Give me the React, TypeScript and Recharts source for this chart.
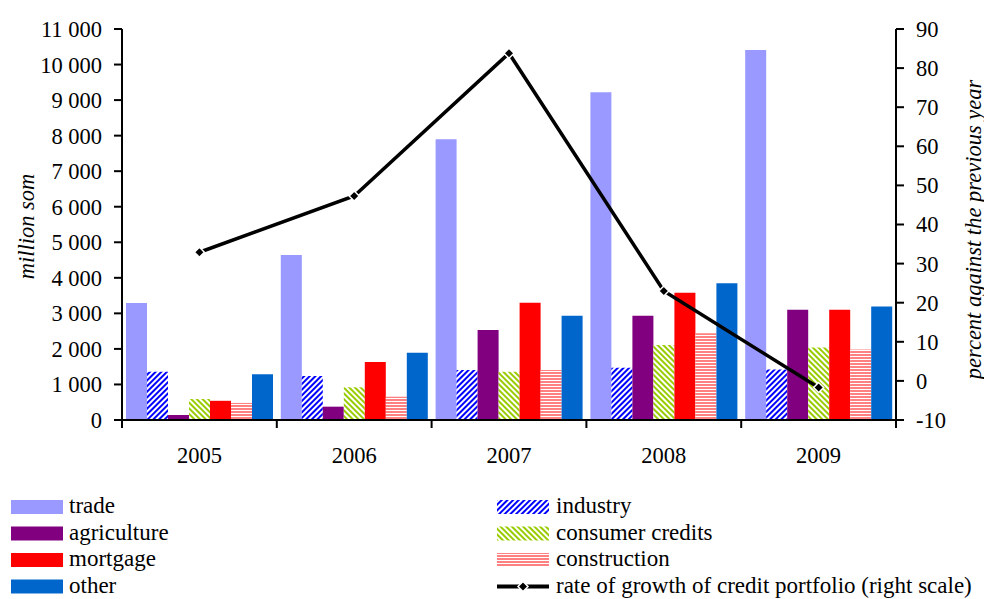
import React from "react";
import {
  ComposedChart,
  Bar,
  Line,
  XAxis,
  YAxis,
  Label
} from "recharts";

// Credit portfolio by sector, million som, plus annual growth rate (%)
const years = ["2005", "2006", "2007", "2008", "2009"];
const trade = [3290, 4640, 7900, 9220, 10410];
const industry = [1360, 1240, 1410, 1470, 1420];
const agriculture = [140, 375, 2530, 2930, 3100];
const consumerCredits = [590, 920, 1360, 2110, 2040];
const mortgage = [540, 1630, 3300, 3580, 3100];
const construction = [480, 655, 1410, 2440, 1980];
const other = [1290, 1890, 2930, 3850, 3190];
const growthRate = [32.9, 47.3, 83.8, 23.0, -1.7];

const leftTicks = [0, 1000, 2000, 3000, 4000, 5000, 6000, 7000, 8000, 9000, 10000, 11000];
const rightTicks = [-10, 0, 10, 20, 30, 40, 50, 60, 70, 80, 90];

const data = years.map((year, i) => ({
  year,
  trade: trade[i],
  industry: industry[i],
  agriculture: agriculture[i],
  consumer: consumerCredits[i],
  mortgage: mortgage[i],
  construction: construction[i],
  other: other[i],
  growth: growthRate[i]
}));

const FONT = "'Liberation Serif', 'Times New Roman', serif";
const W = 984;
const CHART_H = 480;
const LEFT_W = 122;
const RIGHT_W = 88;
const BAND = (W - LEFT_W - RIGHT_W) / years.length;

const legendItems = [
  { name: "trade", fill: "#9999ff" },
  { name: "industry", fill: "url(#hatchIndustry)" },
  { name: "agriculture", fill: "#800080" },
  { name: "consumer credits", fill: "url(#hatchConsumer)" },
  { name: "mortgage", fill: "#ff0000" },
  { name: "construction", fill: "url(#hatchConstruction)" },
  { name: "other", fill: "#0066cc" },
  { name: "rate of growth of credit portfolio (right scale)", line: true }
];

const fmtThousands = (v: number) =>
  String(v).replace(/\B(?=(\d{3})+(?!\d))/g, " ");

const Diamond = (props: any) => {
  const { cx, cy } = props;
  if (cx == null || cy == null) return null;
  const r = 5;
  return (
    <path
      d={`M${cx} ${cy - r} L${cx + r} ${cy} L${cx} ${cy + r} L${cx - r} ${cy} Z`}
      fill="#000"
      stroke="#fff"
      strokeWidth={1.5}
    />
  );
};

// year label with boundary tick marks between categories
const YearTick = (props: any) => {
  const { x, y, payload, index } = props;
  const half = BAND / 2;
  return (
    <g>
      <line x1={x - half} y1={y} x2={x - half} y2={y + 8} stroke="#000" strokeWidth={2} />
      {index === years.length - 1 && (
        <line x1={x + half} y1={y} x2={x + half} y2={y + 8} stroke="#000" strokeWidth={2} />
      )}
      <text x={x} y={y + 43} textAnchor="middle" fill="#000" fontSize={22.5} fontFamily={FONT}>
        {payload.value}
      </text>
    </g>
  );
};

const LeftTitle = (props: any) => {
  const vb = props.viewBox;
  const cx = vb.x + 26;
  const cy = vb.y + vb.height / 2 + 2;
  return (
    <text
      x={cx}
      y={cy}
      transform={`rotate(-90 ${cx} ${cy})`}
      textAnchor="middle"
      dominantBaseline="central"
      fontSize={22.5}
      fontStyle="italic"
      fontFamily={FONT}
      fill="#000"
    >
      million som
    </text>
  );
};

const RightTitle = (props: any) => {
  const vb = props.viewBox;
  const cx = vb.x + 77;
  const cy = vb.y + vb.height / 2 + 5;
  return (
    <text
      x={cx}
      y={cy}
      transform={`rotate(-90 ${cx} ${cy})`}
      textAnchor="middle"
      dominantBaseline="central"
      fontSize={22.5}
      fontStyle="italic"
      fontFamily={FONT}
      fill="#000"
    >
      percent against the previous year
    </text>
  );
};

const tickStyle = { fill: "#000", fontSize: 22.5, fontFamily: FONT };
const axisStroke = { stroke: "#000", strokeWidth: 2 };

function ChartLegend() {
  const colX = [11, 497];
  const rowTop = (r: number) => 20 + r * 26.5;
  return (
    <svg width={W} height={119} style={{ position: "absolute", left: 0, top: 480 }}>
      {legendItems.map((item, i) => {
        const col = i % 2;
        const row = Math.floor(i / 2);
        const x = colX[col];
        const top = rowTop(row);
        const mid = top + 7;
        return (
          <g key={item.name}>
            {item.line ? (
              <g>
                <line x1={x} y1={mid} x2={x + 52} y2={mid} stroke="#000" strokeWidth={4} />
                <Diamond cx={x + 26} cy={mid} />
              </g>
            ) : (
              <rect x={x} y={top} width={52} height={14} fill={item.fill} />
            )}
            <text
              x={x + (col === 0 ? 58 : 59)}
              y={top + 13}
              fontSize={23}
              fontFamily={FONT}
              fill="#000"
            >
              {item.name}
            </text>
          </g>
        );
      })}
    </svg>
  );
}

export default function App() {
  return (
    <div style={{ position: "absolute", left: 0, top: 0, width: W, height: 599, background: "#fff" }}>
      <svg width={0} height={0} style={{ position: "absolute" }}>
        <defs>
          <pattern id="hatchIndustry" width="4" height="4" patternUnits="userSpaceOnUse" patternTransform="rotate(45)">
            <rect width="4" height="4" fill="#fff" />
            <rect width="2" height="4" fill="#0000ff" />
          </pattern>
          <pattern id="hatchConsumer" width="4" height="4" patternUnits="userSpaceOnUse" patternTransform="rotate(-45)">
            <rect width="4" height="4" fill="#fff" />
            <rect width="2" height="4" fill="#99cc00" />
          </pattern>
          <pattern id="hatchConstruction" width="4" height="3" patternUnits="userSpaceOnUse">
            <rect width="4" height="3" fill="#fff" />
            <rect width="4" height="2" fill="#ff8080" />
          </pattern>
        </defs>
      </svg>

      <ComposedChart
        width={W}
        height={CHART_H}
        data={data}
        margin={{ top: 29, right: 0, bottom: 0, left: 0 }}
        barSize={21}
        barGap={0}
      >
        <XAxis
          dataKey="year"
          height={60}
          interval={0}
          axisLine={axisStroke}
          tickLine={false}
          tickSize={0}
          tickMargin={0}
          tick={<YearTick />}
        />
        <YAxis
          yAxisId="left"
          width={LEFT_W}
          domain={[0, 11000]}
          ticks={leftTicks}
          interval={0}
          tickFormatter={fmtThousands}
          axisLine={axisStroke}
          tickLine={axisStroke}
          tickSize={8}
          tickMargin={12}
          tick={tickStyle}
        >
          <Label content={<LeftTitle />} />
        </YAxis>
        <YAxis
          yAxisId="right"
          orientation="right"
          width={RIGHT_W}
          domain={[-10, 90]}
          ticks={rightTicks}
          interval={0}
          axisLine={axisStroke}
          tickLine={axisStroke}
          tickSize={8}
          tickMargin={12}
          tick={tickStyle}
        >
          <Label content={<RightTitle />} />
        </YAxis>

        <Bar yAxisId="left" dataKey="trade" fill="#9999ff" isAnimationActive={false} />
        <Bar yAxisId="left" dataKey="industry" fill="url(#hatchIndustry)" isAnimationActive={false} />
        <Bar yAxisId="left" dataKey="agriculture" fill="#800080" isAnimationActive={false} />
        <Bar yAxisId="left" dataKey="consumer" fill="url(#hatchConsumer)" isAnimationActive={false} />
        <Bar yAxisId="left" dataKey="mortgage" fill="#ff0000" isAnimationActive={false} />
        <Bar yAxisId="left" dataKey="construction" fill="url(#hatchConstruction)" isAnimationActive={false} />
        <Bar yAxisId="left" dataKey="other" fill="#0066cc" isAnimationActive={false} />

        <Line
          yAxisId="right"
          type="linear"
          dataKey="growth"
          stroke="#000"
          strokeWidth={3.5}
          dot={<Diamond />}
          activeDot={false}
          isAnimationActive={false}
        />
      </ComposedChart>

      <ChartLegend />
    </div>
  );
}
